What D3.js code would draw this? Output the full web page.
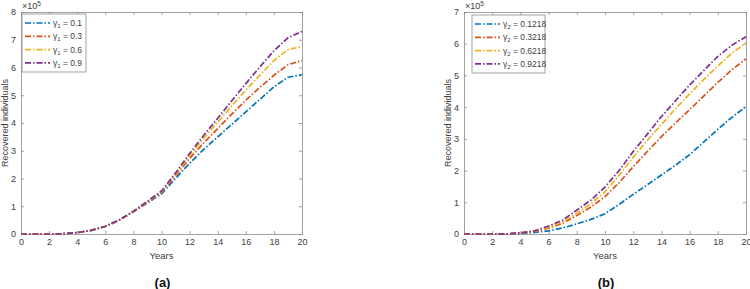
<!DOCTYPE html>
<html>
<head>
<meta charset="utf-8">
<script src="https://cdn.jsdelivr.net/npm/d3@7"></script>
<style>
  body { margin: 0; background: #fff; }
  svg { display: block; font-family: "Liberation Sans", Arial, sans-serif; }
</style>
</head>
<body>
<div id="chart"></div>
<script>
// years for both panels
const years = d3.range(0, 21);

// panel (a): varying gamma_1, values in units of 10^5
const gamma1Labels = ["0.1", "0.3", "0.6", "0.9"];
const gamma1Blue = [0, 0, 0, 0.01, 0.05, 0.13, 0.27, 0.5, 0.8, 1.12, 1.45, 2.0, 2.55, 3.05, 3.5, 3.95, 4.4, 4.85, 5.3, 5.65, 5.74];
const gamma1Red = [0, 0, 0, 0.01, 0.05, 0.13, 0.27, 0.5, 0.8, 1.14, 1.5, 2.1, 2.72, 3.28, 3.8, 4.32, 4.82, 5.28, 5.72, 6.1, 6.25];
const gamma1Yellow = [0, 0, 0, 0.01, 0.05, 0.13, 0.27, 0.5, 0.81, 1.16, 1.52, 2.15, 2.82, 3.45, 4.03, 4.62, 5.18, 5.72, 6.25, 6.65, 6.75];
const gamma1Purple = [0, 0, 0, 0.01, 0.05, 0.13, 0.28, 0.51, 0.82, 1.18, 1.55, 2.2, 2.9, 3.55, 4.17, 4.8, 5.42, 6.02, 6.6, 7.07, 7.3];

// panel (b): varying gamma_2
const gamma2Labels = ["0.1218", "0.3218", "0.6218", "0.9218"];
const gamma2Blue = [0, 0, 0, 0.002, 0.015, 0.05, 0.1, 0.19, 0.32, 0.46, 0.64, 0.93, 1.25, 1.55, 1.86, 2.17, 2.5, 2.9, 3.3, 3.68, 4.02];
const gamma2Red = [0, 0, 0, 0.003, 0.03, 0.08, 0.18, 0.34, 0.58, 0.85, 1.18, 1.62, 2.12, 2.6, 3.07, 3.5, 3.92, 4.35, 4.78, 5.18, 5.52];
const gamma2Yellow = [0, 0, 0, 0.003, 0.03, 0.09, 0.21, 0.38, 0.65, 0.96, 1.33, 1.85, 2.42, 2.95, 3.45, 3.95, 4.42, 4.87, 5.3, 5.7, 6.03];
const gamma2Purple = [0, 0, 0, 0.004, 0.04, 0.1, 0.25, 0.44, 0.75, 1.07, 1.48, 2.0, 2.6, 3.15, 3.7, 4.2, 4.7, 5.15, 5.6, 5.95, 6.22];

const xTicks = d3.range(0, 21, 2);
const colors = ["#0072BD", "#D95319", "#EDB120", "#7E2F8E"];

const width = 750, height = 289;
const svg = d3.select("#chart").append("svg")
    .attr("width", width)
    .attr("height", height);

const axisColor = "#8c8c8c";
const textColor = "#404040";
const dash = "6,2,1.5,2";

function drawPanel(opts) {
    const { left, right, top, bottom, yMax, series, labels, sub, caption, legend, yLabelX } = opts;
    const g = svg.append("g");

    const x = d3.scaleLinear().domain([0, 20]).range([left, right]);
    const y = d3.scaleLinear().domain([0, yMax]).range([bottom, top]);
    const yTicks = d3.range(0, yMax + 1);

    // axes with inward ticks on all four sides (box on)
    const tickLen = 3;
    g.append("g").attr("transform", `translate(0,${bottom})`)
        .call(d3.axisBottom(x).tickValues(xTicks).tickSizeInner(-tickLen).tickSizeOuter(0).tickPadding(5));
    g.append("g").attr("transform", `translate(0,${top})`)
        .call(d3.axisTop(x).tickValues(xTicks).tickSizeInner(-tickLen).tickSizeOuter(0).tickFormat(""));
    g.append("g").attr("transform", `translate(${left},0)`)
        .call(d3.axisLeft(y).tickValues(yTicks).tickFormat(d3.format("d")).tickSizeInner(-tickLen).tickSizeOuter(0).tickPadding(5));
    g.append("g").attr("transform", `translate(${right},0)`)
        .call(d3.axisRight(y).tickValues(yTicks).tickSizeInner(-tickLen).tickSizeOuter(0).tickFormat(""));

    g.selectAll(".domain").attr("stroke", axisColor).attr("stroke-width", 0.8);
    g.selectAll(".tick line").attr("stroke", axisColor).attr("stroke-width", 0.8);
    g.selectAll(".tick text").attr("fill", textColor).style("font-size", "9px");

    // exponent label
    const ex = g.append("text")
        .attr("x", left + 1)
        .attr("y", top - 3)
        .attr("fill", textColor)
        .style("font-size", "9px");
    ex.append("tspan").text("\u00d710");
    ex.append("tspan").attr("dy", -3.5).style("font-size", "6.5px").text("5");

    // axis labels
    g.append("text")
        .attr("x", (left + right) / 2)
        .attr("y", bottom + 25)
        .attr("text-anchor", "middle")
        .attr("fill", textColor)
        .style("font-size", "9.5px")
        .text("Years");
    g.append("text")
        .attr("transform", `translate(${yLabelX},${(top + bottom) / 2}) rotate(-90)`)
        .attr("text-anchor", "middle")
        .attr("fill", textColor)
        .style("font-size", "9px")
        .text("Recovered individuals");

    // lines
    const line = d3.line()
        .x((d, i) => x(years[i]))
        .y(d => y(d));
    g.selectAll("path.series")
        .data(series)
        .join("path")
        .attr("class", "series")
        .attr("d", line)
        .attr("fill", "none")
        .attr("stroke", (d, i) => colors[i])
        .attr("stroke-width", 1.7)
        .attr("stroke-dasharray", dash);

    // legend
    g.append("rect")
        .attr("x", legend.x).attr("y", legend.y)
        .attr("width", legend.w).attr("height", legend.h)
        .attr("fill", "#fff")
        .attr("stroke", axisColor)
        .attr("stroke-width", 0.8);
    labels.forEach((lab, i) => {
        const ly = legend.y + 9 + i * 13.3;
        g.append("line")
            .attr("x1", legend.x + 3).attr("x2", legend.x + 28)
            .attr("y1", ly).attr("y2", ly)
            .attr("stroke", colors[i])
            .attr("stroke-width", 1.7)
            .attr("stroke-dasharray", dash);
        const t = g.append("text")
            .attr("x", legend.x + 31)
            .attr("y", ly + 3)
            .attr("fill", textColor)
            .style("font-size", "8.5px");
        t.append("tspan").text("\u03b3");
        t.append("tspan").attr("dy", 2).style("font-size", "6px").text(sub);
        t.append("tspan").attr("dy", -2).text(" = " + lab);
    });

    // caption
    g.append("text")
        .attr("x", (left + right) / 2 + 1)
        .attr("y", 287)
        .attr("text-anchor", "middle")
        .attr("fill", "#111")
        .style("font-size", "13px")
        .style("font-weight", "bold")
        .text(caption);
}

drawPanel({
    left: 21, right: 302, top: 12, bottom: 234, yMax: 8,
    series: [gamma1Blue, gamma1Red, gamma1Yellow, gamma1Purple],
    labels: gamma1Labels, sub: "1", caption: "(a)",
    legend: { x: 22, y: 14, w: 64, h: 58 }, yLabelX: 8
});

drawPanel({
    left: 464, right: 746, top: 12, bottom: 234, yMax: 7,
    series: [gamma2Blue, gamma2Red, gamma2Yellow, gamma2Purple],
    labels: gamma2Labels, sub: "2", caption: "(b)",
    legend: { x: 472, y: 15, w: 73, h: 58 }, yLabelX: 451
});
</script>
</body>
</html>
